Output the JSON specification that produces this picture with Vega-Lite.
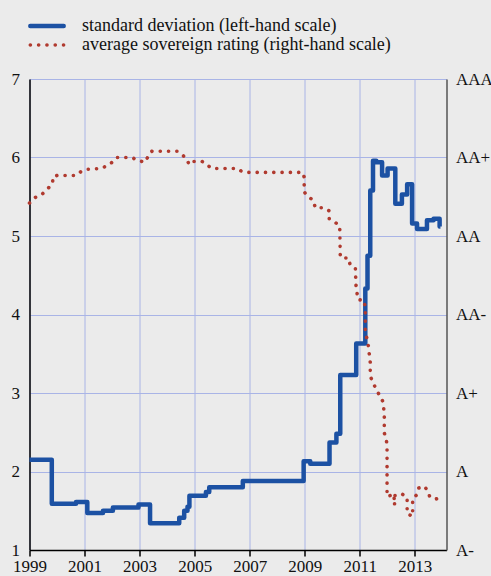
{
  "$schema": "https://vega.github.io/schema/vega-lite/v6.json",
  "width": 417,
  "height": 471,
  "autosize": {"type": "none"},
  "padding": {"left": 29.5, "top": 79, "right": 44.5, "bottom": 26},
  "background": "#ebebeb",
  "config": {
    "view": {"stroke": null},
    "font": "Liberation Serif, Times New Roman, serif",
    "axis": {"labelFont": "Liberation Serif, Times New Roman, serif", "labelFontSize": 17, "labelColor": "#111", "title": null},
    "legend": {"labelFont": "Liberation Serif, Times New Roman, serif"}
  },
  "datasets": {
    "sd": [
      {"year": 1999.0, "sd": 2.15}, {"year": 1999.81, "sd": 1.59}, {"year": 2000.69, "sd": 1.61},
      {"year": 2001.1, "sd": 1.47}, {"year": 2001.67, "sd": 1.5}, {"year": 2002.03, "sd": 1.54},
      {"year": 2002.96, "sd": 1.58}, {"year": 2003.38, "sd": 1.34}, {"year": 2004.44, "sd": 1.41},
      {"year": 2004.62, "sd": 1.5}, {"year": 2004.74, "sd": 1.55}, {"year": 2004.81, "sd": 1.69},
      {"year": 2005.41, "sd": 1.74}, {"year": 2005.53, "sd": 1.8}, {"year": 2006.75, "sd": 1.88},
      {"year": 2008.96, "sd": 2.13}, {"year": 2009.2, "sd": 2.1}, {"year": 2009.9, "sd": 2.37},
      {"year": 2010.15, "sd": 2.48}, {"year": 2010.29, "sd": 3.23}, {"year": 2010.87, "sd": 3.63},
      {"year": 2011.2, "sd": 4.33}, {"year": 2011.28, "sd": 4.75}, {"year": 2011.38, "sd": 5.58},
      {"year": 2011.48, "sd": 5.96}, {"year": 2011.6, "sd": 5.94}, {"year": 2011.81, "sd": 5.77},
      {"year": 2012.01, "sd": 5.86}, {"year": 2012.29, "sd": 5.41}, {"year": 2012.53, "sd": 5.53},
      {"year": 2012.72, "sd": 5.66}, {"year": 2012.9, "sd": 5.16}, {"year": 2013.08, "sd": 5.09},
      {"year": 2013.44, "sd": 5.2}, {"year": 2013.68, "sd": 5.22}, {"year": 2013.9, "sd": 5.12},
      {"year": 2013.93, "sd": 5.12}
    ],
    "rating": [
      {"year": 1999.0, "r": 5.42}, {"year": 1999.2, "r": 5.49}, {"year": 1999.45, "r": 5.53},
      {"year": 1999.65, "r": 5.6}, {"year": 1999.83, "r": 5.66}, {"year": 1999.86, "r": 5.76},
      {"year": 2000.0, "r": 5.77}, {"year": 2000.68, "r": 5.77}, {"year": 2000.87, "r": 5.82},
      {"year": 2001.1, "r": 5.85}, {"year": 2001.62, "r": 5.86}, {"year": 2001.83, "r": 5.9},
      {"year": 2002.05, "r": 5.95}, {"year": 2002.16, "r": 6.0}, {"year": 2002.72, "r": 6.0},
      {"year": 2002.95, "r": 5.96}, {"year": 2003.2, "r": 5.94}, {"year": 2003.33, "r": 6.03},
      {"year": 2003.45, "r": 6.08}, {"year": 2004.36, "r": 6.08}, {"year": 2004.52, "r": 6.04},
      {"year": 2004.7, "r": 5.99}, {"year": 2004.8, "r": 5.91}, {"year": 2004.93, "r": 5.95},
      {"year": 2005.27, "r": 5.95}, {"year": 2005.47, "r": 5.9}, {"year": 2005.63, "r": 5.86},
      {"year": 2006.56, "r": 5.86}, {"year": 2006.72, "r": 5.82}, {"year": 2006.95, "r": 5.81},
      {"year": 2008.92, "r": 5.81}, {"year": 2008.98, "r": 5.75}, {"year": 2008.98, "r": 5.56},
      {"year": 2009.14, "r": 5.5}, {"year": 2009.32, "r": 5.45}, {"year": 2009.38, "r": 5.36},
      {"year": 2009.68, "r": 5.36}, {"year": 2009.89, "r": 5.32}, {"year": 2009.89, "r": 5.22},
      {"year": 2010.08, "r": 5.18}, {"year": 2010.27, "r": 5.13}, {"year": 2010.29, "r": 4.76},
      {"year": 2010.32, "r": 4.72}, {"year": 2010.59, "r": 4.72}, {"year": 2010.65, "r": 4.63},
      {"year": 2010.84, "r": 4.59}, {"year": 2010.86, "r": 4.38}, {"year": 2010.93, "r": 4.19},
      {"year": 2011.16, "r": 4.18}, {"year": 2011.2, "r": 4.07}, {"year": 2011.2, "r": 3.75},
      {"year": 2011.28, "r": 3.68}, {"year": 2011.32, "r": 3.57}, {"year": 2011.38, "r": 3.39},
      {"year": 2011.38, "r": 3.28}, {"year": 2011.41, "r": 3.19}, {"year": 2011.5, "r": 3.12},
      {"year": 2011.6, "r": 3.04}, {"year": 2011.72, "r": 2.97}, {"year": 2011.84, "r": 2.89},
      {"year": 2011.87, "r": 2.8}, {"year": 2011.89, "r": 2.7}, {"year": 2011.89, "r": 2.49},
      {"year": 2011.96, "r": 2.42}, {"year": 2011.99, "r": 2.32}, {"year": 2011.99, "r": 1.68},
      {"year": 2012.24, "r": 1.71}, {"year": 2012.26, "r": 1.57}, {"year": 2012.28, "r": 1.7},
      {"year": 2012.55, "r": 1.71}, {"year": 2012.72, "r": 1.67}, {"year": 2012.72, "r": 1.46},
      {"year": 2012.92, "r": 1.43}, {"year": 2012.92, "r": 1.65}, {"year": 2013.06, "r": 1.7},
      {"year": 2013.14, "r": 1.79}, {"year": 2013.36, "r": 1.81}, {"year": 2013.48, "r": 1.74},
      {"year": 2013.54, "r": 1.68}, {"year": 2013.78, "r": 1.66}, {"year": 2013.86, "r": 1.58}
    ]
  },
  "encoding": {
    "x": {
      "field": "year", "type": "quantitative",
      "scale": {"domain": [1999, 2014.15], "nice": false, "zero": false},
      "axis": {
        "values": [1999, 2001, 2003, 2005, 2007, 2009, 2011, 2013], "format": "d",
        "grid": true, "gridColor": "#a9b4e6", "gridWidth": 1,
        "domainColor": "#000", "domainWidth": 1.5, "tickColor": "#000", "tickWidth": 1.5,
        "tickSize": 6, "labelPadding": 2, "labelFlush": false, "labelOverlap": false
      }
    }
  },
  "layer": [
    {
      "data": {"name": "sd"},
      "mark": {"type": "line", "interpolate": "step-after", "strokeJoin": "round", "strokeCap": "butt"},
      "encoding": {
        "y": {
          "field": "sd", "type": "quantitative",
          "scale": {"domain": [1, 7], "nice": false, "zero": false},
          "axis": {
            "orient": "left", "values": [1, 2, 3, 4, 5, 6, 7], "grid": true, "gridColor": "#a9b4e6",
            "domainColor": "#000", "domainWidth": 1.5, "ticks": false, "labelPadding": 10
          }
        },
        "order": {"value": null},
        "color": {
          "datum": "standard deviation (left-hand scale)",
          "scale": {"domain": ["standard deviation (left-hand scale)", "average sovereign rating (right-hand scale)"], "range": ["#1c51a3", "#b03a2f"]},
          "legend": {
            "title": null, "orient": "none", "legendX": -1.5, "legendY": -62,
            "symbolType": "stroke", "symbolSize": 1115, "labelFontSize": 18,
            "labelColor": "#111", "labelOffset": 16, "labelLimit": 0, "padding": 0,
            "clipHeight": 18, "rowPadding": 1,
            "encode": {"symbols": {"update": {"strokeCap": {"value": "round"}}}}
          }
        },
        "strokeDash": {
          "datum": "standard deviation (left-hand scale)",
          "scale": {"domain": ["standard deviation (left-hand scale)", "average sovereign rating (right-hand scale)"], "range": [[1, 0], [0.1, 8.2]]},
          "legend": null
        },
        "strokeWidth": {
          "datum": "standard deviation (left-hand scale)",
          "scale": {"domain": ["standard deviation (left-hand scale)", "average sovereign rating (right-hand scale)"], "range": [4.5, 3.6]},
          "legend": null
        }
      }
    },
    {
      "data": {"name": "rating"},
      "mark": {"type": "line", "strokeCap": "round"},
      "encoding": {
        "y": {
          "field": "r", "type": "quantitative",
          "scale": {"domain": [1, 7], "nice": false, "zero": false},
          "axis": {
            "orient": "right", "values": [1, 2, 3, 4, 5, 6, 7], "grid": false,
            "domainColor": "#555", "domainWidth": 1.5, "ticks": false, "labelPadding": 9,
            "labelExpr": "['','A-','A','A+','AA-','AA','AA+','AAA'][datum.value]"
          }
        },
        "order": {"value": null},
        "color": {"datum": "average sovereign rating (right-hand scale)"},
        "strokeDash": {"datum": "average sovereign rating (right-hand scale)"},
        "strokeWidth": {"datum": "average sovereign rating (right-hand scale)"}
      }
    }
  ],
  "resolve": {"scale": {"y": "independent"}}
}
